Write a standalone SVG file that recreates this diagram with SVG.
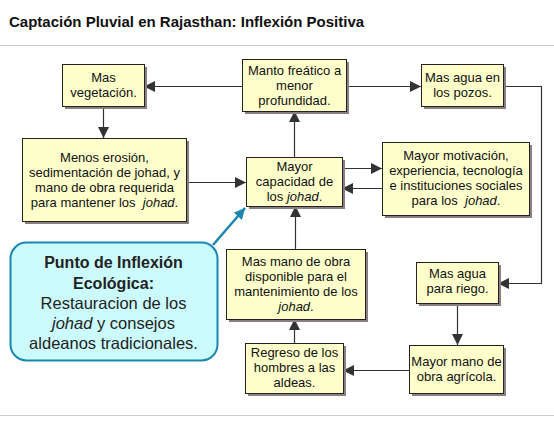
<svg xmlns="http://www.w3.org/2000/svg" width="554" height="433" viewBox="0 0 554 433">
<style>
.box{fill:#ffffcc;stroke:#222;stroke-width:1}
.sh{fill:#8a8080}
.t{font-family:"Liberation Sans",Arial,sans-serif;font-size:13px;fill:#111;text-anchor:middle}
.i{font-style:italic}
.c{fill:none;stroke:#333;stroke-width:1.2}
.ttl{font-family:"Liberation Sans",Arial,sans-serif;font-size:15px;font-weight:bold;fill:#111}
.ct{font-family:"Liberation Sans",Arial,sans-serif;font-size:16.5px;fill:#222;text-anchor:middle}
.cb{font-size:16px;font-weight:bold}
</style>
<defs>
<marker id="a" viewBox="0 0 10 10" refX="10" refY="5" markerWidth="11" markerHeight="11" markerUnits="userSpaceOnUse" orient="auto"><path d="M0,0L10,5L0,10z" fill="#333"/></marker>
<marker id="b" viewBox="0 0 10 10" refX="10" refY="5" markerWidth="11" markerHeight="11" markerUnits="userSpaceOnUse" orient="auto"><path d="M0,0L10,5L0,10z" fill="#1a87b0"/></marker>
</defs>
<rect width="554" height="433" fill="#fff"/>
<text class="ttl" x="9" y="27">Captación Pluvial en Rajasthan: Inflexión Positiva</text>
<line x1="0" y1="45.5" x2="554" y2="45.5" stroke="#ccc"/>
<line x1="0" y1="415.5" x2="554" y2="415.5" stroke="#ccc"/>

<g id="connectors">
<path class="c" d="M242,86.5H144" marker-end="url(#a)"/>
<path class="c" d="M346,86.5H421" marker-end="url(#a)"/>
<path class="c" d="M103.5,106V138" marker-end="url(#a)"/>
<path class="c" d="M186,182.5H246" marker-end="url(#a)"/>
<path class="c" d="M294.5,157V111" marker-end="url(#a)"/>
<path class="c" d="M342,168.5H382" marker-end="url(#a)"/>
<path class="c" d="M382,188.5H342" marker-end="url(#a)"/>
<path class="c" d="M503,86.5H541.5V283.5H498" marker-end="url(#a)"/>
<path class="c" d="M457.5,303V345" marker-end="url(#a)"/>
<path class="c" d="M409,370.5H343" marker-end="url(#a)"/>
<path class="c" d="M294.5,343V319" marker-end="url(#a)"/>
<path class="c" d="M295.5,249V206" marker-end="url(#a)"/>
<path d="M213,245L245,208" stroke="#1a87b0" stroke-width="2.5" fill="none" marker-end="url(#b)"/>
</g>

<g id="mas-vegetacion">
<rect class="sh" x="65" y="67" width="82" height="42"/>
<rect class="box" x="62.5" y="64.5" width="82" height="42"/>
<text class="t" x="103.5" y="82">Mas</text>
<text class="t" x="103.5" y="97">vegetación.</text>
</g>

<g id="menos-erosion">
<rect class="sh" x="25" y="141" width="164" height="83"/>
<rect class="box" x="22.5" y="138.5" width="164" height="83"/>
<text class="t" x="104.5" y="162">Menos erosión,</text>
<text class="t" x="104.5" y="177">sedimentación de johad, y</text>
<text class="t" x="104.5" y="192">mano de obra requerida</text>
<text class="t" x="104.5" y="207" xml:space="preserve">para mantener los  <tspan class="i">johad</tspan>.</text>
</g>

<g id="manto-freatico">
<rect class="sh" x="245" y="62" width="104" height="52"/>
<rect class="box" x="242.5" y="59.5" width="104" height="52"/>
<text class="t" x="294.5" y="75">Manto freático a</text>
<text class="t" x="294.5" y="90">menor</text>
<text class="t" x="294.5" y="105">profundidad.</text>
</g>

<g id="mas-agua-pozos">
<rect class="sh" x="424" y="67" width="82" height="42"/>
<rect class="box" x="421.5" y="64.5" width="82" height="42"/>
<text class="t" x="462.5" y="82">Mas agua en</text>
<text class="t" x="462.5" y="97">los pozos.</text>
</g>

<g id="mayor-capacidad">
<rect class="sh" x="249" y="160" width="96" height="49"/>
<rect class="box" x="246.5" y="157.5" width="96" height="49"/>
<text class="t" x="294.5" y="171">Mayor</text>
<text class="t" x="294.5" y="186">capacidad de</text>
<text class="t" x="294.5" y="201">los <tspan class="i">johad</tspan>.</text>
</g>

<g id="mayor-motivacion">
<rect class="sh" x="385" y="145" width="147" height="73"/>
<rect class="box" x="382.5" y="142.5" width="147" height="73"/>
<text class="t" x="456" y="160">Mayor motivación,</text>
<text class="t" x="456" y="175">experiencia, tecnología</text>
<text class="t" x="456" y="190">e instituciones sociales</text>
<text class="t" x="456" y="205" xml:space="preserve">para los  <tspan class="i">johad</tspan>.</text>
</g>

<g id="punto-inflexion">
<rect x="10.5" y="242.5" width="207" height="118" rx="16" ry="16" fill="#ccfbfd" stroke="#1a87b0" stroke-width="2"/>
<text class="ct cb" x="113.5" y="268">Punto de Inflexión</text>
<text class="ct cb" x="113.5" y="289">Ecológica:</text>
<text class="ct" x="113.5" y="309">Restauracion de los</text>
<text class="ct" x="113.5" y="329"><tspan class="i">johad</tspan> y consejos</text>
<text class="ct" x="113.5" y="349">aldeanos tradicionales.</text>
</g>

<g id="mas-mano-obra">
<rect class="sh" x="229" y="252" width="139" height="70"/>
<rect class="box" x="226.5" y="249.5" width="139" height="70"/>
<text class="t" x="296" y="266">Mas mano de obra</text>
<text class="t" x="296" y="281">disponible para el</text>
<text class="t" x="296" y="296">mantenimiento de los</text>
<text class="t" x="296" y="311"><tspan class="i">johad</tspan>.</text>
</g>

<g id="mas-agua-riego">
<rect class="sh" x="419" y="265" width="82" height="41"/>
<rect class="box" x="416.5" y="262.5" width="82" height="41"/>
<text class="t" x="457.5" y="278">Mas agua</text>
<text class="t" x="457.5" y="293">para riego.</text>
</g>

<g id="mayor-mano-agricola">
<rect class="sh" x="412" y="348" width="94" height="48"/>
<rect class="box" x="409.5" y="345.5" width="94" height="48"/>
<text class="t" x="456.5" y="366">Mayor mano de</text>
<text class="t" x="456.5" y="381">obra agrícola.</text>
</g>

<g id="regreso">
<rect class="sh" x="248" y="346" width="98" height="50"/>
<rect class="box" x="245.5" y="343.5" width="98" height="50"/>
<text class="t" x="294.5" y="357">Regreso de los</text>
<text class="t" x="294.5" y="372">hombres a las</text>
<text class="t" x="294.5" y="387">aldeas.</text>
</g>
</svg>
